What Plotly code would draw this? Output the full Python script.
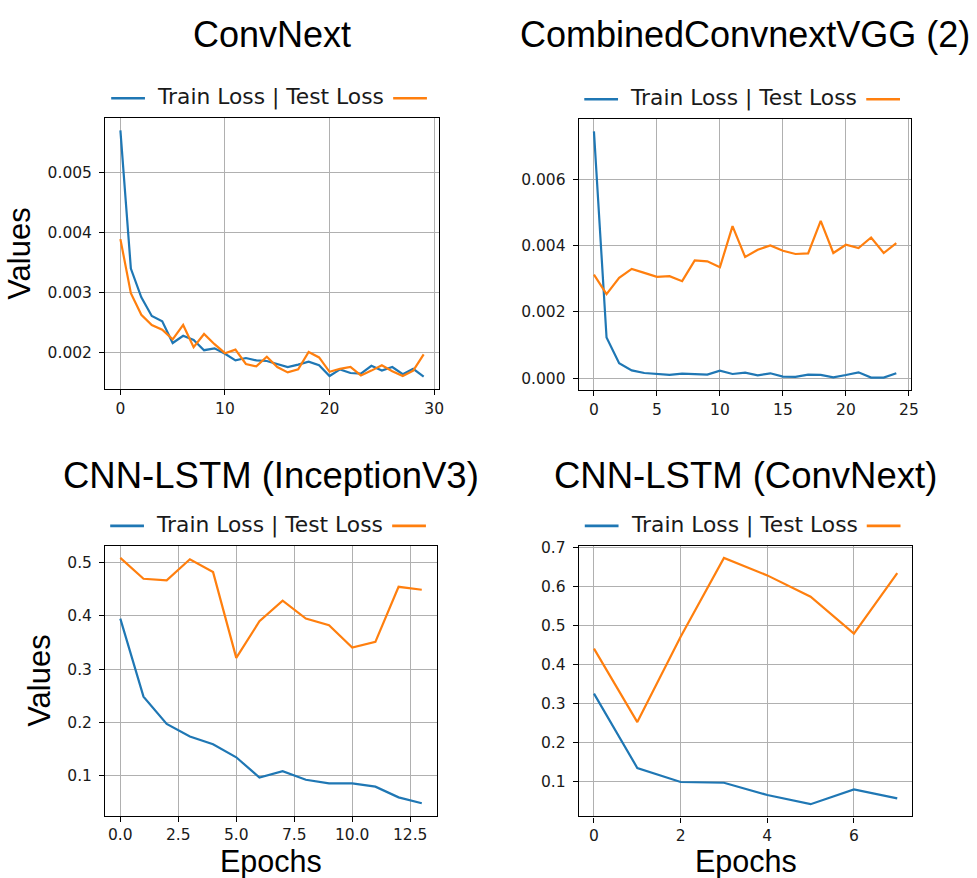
import plotly.graph_objects as go

# ---------------- data ----------------
titles = ["ConvNext", "CombinedConvnextVGG (2)", "CNN-LSTM (InceptionV3)", "CNN-LSTM (ConvNext)"]
legend_text = "Train Loss | Test Loss"
x_label = "Epochs"
y_label = "Values"

convnext_train = [0.00570, 0.00340, 0.00292, 0.00261, 0.00252, 0.00216, 0.00228, 0.00221, 0.00204, 0.00207,
                  0.00198, 0.00187, 0.00191, 0.00187, 0.00186, 0.00181, 0.00176, 0.00180, 0.00185, 0.00179,
                  0.00161, 0.00172, 0.00166, 0.00165, 0.00178, 0.00170, 0.00176, 0.00164, 0.00173, 0.00160]
convnext_test = [0.00389, 0.00299, 0.00263, 0.00246, 0.00238, 0.00222, 0.00246, 0.00209, 0.00231, 0.00214,
                 0.00199, 0.00205, 0.00181, 0.00177, 0.00193, 0.00176, 0.00167, 0.00172, 0.00201, 0.00192,
                 0.00168, 0.00173, 0.00176, 0.00162, 0.00170, 0.00179, 0.00169, 0.00161, 0.00170, 0.00197]

combined_train = [0.00745, 0.00123, 0.000456, 0.000238, 0.000159, 0.000129, 0.00010, 0.00014, 0.00013, 0.00011,
                  0.00023, 0.00013, 0.00017, 0.00009, 0.00015, 0.00005, 0.00004, 0.00011, 0.00010, 0.00003,
                  0.00010, 0.00018, 0.00002, 0.00002, 0.00015]
combined_test = [0.00313, 0.00254, 0.00303, 0.00330, 0.00318, 0.00306, 0.00308, 0.00293, 0.00356, 0.00353,
                 0.00335, 0.00459, 0.00366, 0.00388, 0.00401, 0.00385, 0.00375, 0.00377, 0.00475, 0.00378,
                 0.00403, 0.00393, 0.00425, 0.00378, 0.00408]

lstm_incep_train = [0.3945, 0.2485, 0.1975, 0.174, 0.1595, 0.135, 0.097, 0.109, 0.093, 0.086, 0.086, 0.080, 0.060, 0.049]
lstm_incep_test = [0.508, 0.469, 0.466, 0.5055, 0.4815, 0.321, 0.3895, 0.428, 0.3945, 0.382, 0.3405, 0.351, 0.454, 0.4485]

lstm_convnext_train = [0.325, 0.134, 0.098, 0.096, 0.0646, 0.041, 0.079, 0.056]
lstm_convnext_test = [0.4406, 0.2518, 0.471, 0.6734, 0.6287, 0.574, 0.479, 0.6346]

x_ticks = [[0, 10, 20, 30], [0, 5, 10, 15, 20, 25], [0, 2.5, 5, 7.5, 10, 12.5], [0, 2, 4, 6]]
y_ticks = [[0.002, 0.003, 0.004, 0.005], [0.000, 0.002, 0.004, 0.006],
           [0.1, 0.2, 0.3, 0.4, 0.5], [0.1, 0.2, 0.3, 0.4, 0.5, 0.6, 0.7]]
x_fmt = ["d", "d", ".1f", "d"]
y_fmt = [".3f", ".3f", ".1f", ".1f"]

series = [(convnext_train, convnext_test), (combined_train, combined_test),
          (lstm_incep_train, lstm_incep_test), (lstm_convnext_train, lstm_convnext_test)]

# ---------------- layout geometry (pixels) ----------------
W, H = 977, 878
boxes = [(106, 442, 112, 385), (583, 918, 113, 386), (106, 440, 543, 815), (583, 919, 543, 816)]
title_y = [28, 28, 472, 472]
title_size = [36, 36, 36.5, 36.5]
BLUE, ORANGE = "#1f77b4", "#ff7f0e"


def px(x):
    return x / W


def py(y):
    return 1 - y / H


def pad_range(vals, frac=0.05):
    lo, hi = min(vals), max(vals)
    s = hi - lo
    return [lo - frac * s, hi + frac * s]


fig = go.Figure()
shapes = []
annotations = []

for i, (train, test) in enumerate(series):
    n = i + 1
    xs = list(range(len(train)))
    xa = "x" if n == 1 else f"x{n}"
    ya = "y" if n == 1 else f"y{n}"
    fig.add_trace(go.Scatter(x=xs, y=train, mode="lines", name="Train Loss", xaxis=xa, yaxis=ya,
                             line=dict(color=BLUE, width=2.2), showlegend=False))
    fig.add_trace(go.Scatter(x=xs, y=test, mode="lines", name="Test Loss", xaxis=xa, yaxis=ya,
                             line=dict(color=ORANGE, width=2.2), showlegend=False))
    x0, x1, y0, y1 = boxes[i]
    common = dict(showline=True, mirror=True, linecolor="#000000", linewidth=1.3,
                  showgrid=True, gridcolor="#b0b0b0", gridwidth=1.1, zeroline=False,
                  ticks="outside", ticklen=5, tickwidth=1.2, tickcolor="#000000",
                  tickfont=dict(family="DejaVu Sans", size=15.5, color="#1a1a1a"))
    xr = [-0.05 * (len(xs) - 1), (len(xs) - 1) * 1.05]
    xaxis = dict(domain=[px(x0), px(x1)], anchor=ya, range=xr, tickmode="array",
                 tickvals=x_ticks[i], tickformat=x_fmt[i], **common)
    yaxis = dict(domain=[py(y1), py(y0)], anchor=xa, range=pad_range(train + test), tickmode="array",
                 tickvals=y_ticks[i], tickformat=y_fmt[i], ticklabelstandoff=4, **common)
    if i % 2 == 0:
        yaxis["title"] = dict(text=y_label, font=dict(family="Liberation Sans", size=31, color="#000"), standoff=7)
    fig.layout[("xaxis" if n == 1 else f"xaxis{n}")] = xaxis
    fig.layout[("yaxis" if n == 1 else f"yaxis{n}")] = yaxis

    cx = (x0 + x1) / 2
    ly = y0 - 20
    # x axis label (bottom row)
    if i >= 2:
        annotations.append(dict(text=x_label, x=px(cx), y=py(881), xref="paper", yref="paper",
                                xanchor="center", yanchor="bottom", showarrow=False,
                                font=dict(family="Liberation Sans", size=30.5, color="#000")))
    # title
    annotations.append(dict(text=titles[i], x=px(cx), y=py(title_y[i]), xref="paper", yref="paper",
                            xanchor="center", yanchor="middle", showarrow=False,
                            font=dict(family="Liberation Sans", size=title_size[i], color="#000")))
    # legend
    annotations.append(dict(text=legend_text, x=px(cx - 1.5), y=py(ly - 1), xref="paper", yref="paper",
                            xanchor="center", yanchor="middle", showarrow=False,
                            font=dict(family="DejaVu Sans", size=21.8, color="#1a1a1a")))
    shapes.append(dict(type="line", xref="paper", yref="paper", x0=px(cx - 162), x1=px(cx - 128),
                       y0=py(ly), y1=py(ly), line=dict(color=BLUE, width=2.7)))
    shapes.append(dict(type="line", xref="paper", yref="paper", x0=px(cx + 122), x1=px(cx + 156),
                       y0=py(ly), y1=py(ly), line=dict(color=ORANGE, width=2.7)))

fig.update_layout(width=W, height=H, margin=dict(l=0, r=0, t=0, b=0),
                  paper_bgcolor="white", plot_bgcolor="white",
                  shapes=shapes, annotations=annotations, showlegend=False)

fig.write_html("out.html")
